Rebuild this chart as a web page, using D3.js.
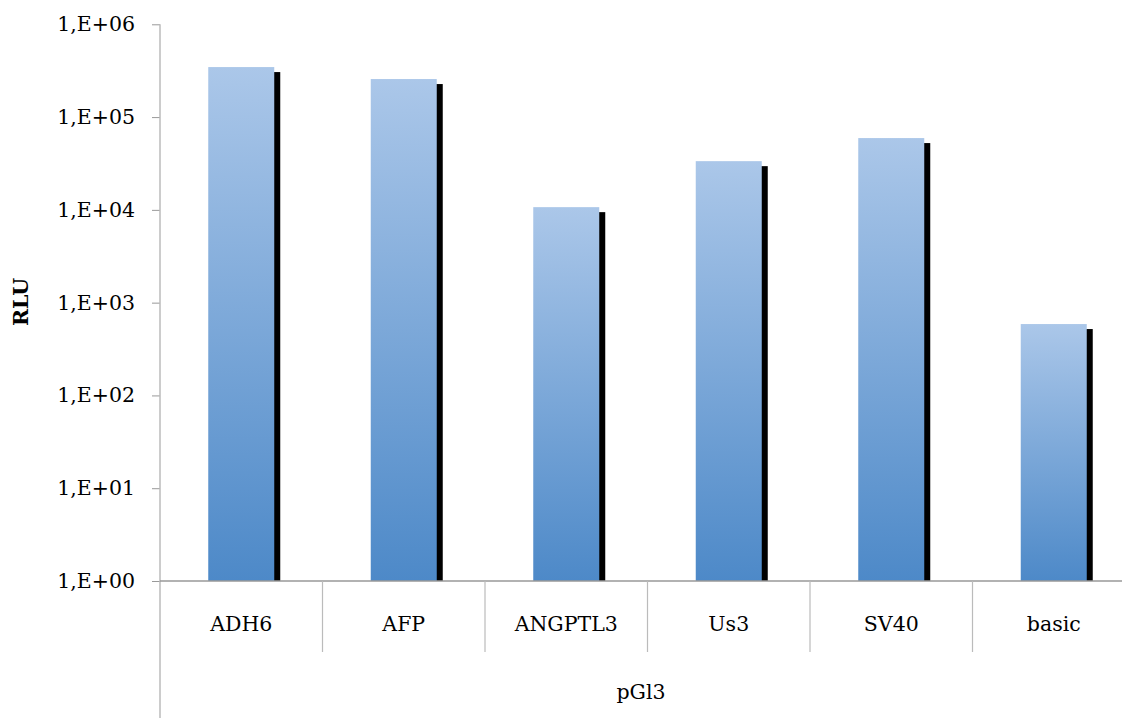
<!DOCTYPE html>
<html><head><meta charset="utf-8">
<script src="https://cdn.jsdelivr.net/npm/d3@7"></script>
<style>body{margin:0;background:#fff}svg{display:block}</style>
</head><body>
<svg id="c" width="1124" height="718"></svg>
<script>
const categories = ["ADH6","AFP","ANGPTL3","Us3","SV40","basic"];
const values = [346000, 257000, 10700, 33500, 59400, 588];
const tickValues = [1,10,100,1000,10000,100000,1000000];
const tickLabels = ["1,E+00","1,E+01","1,E+02","1,E+03","1,E+04","1,E+05","1,E+06"];
const groupLabel = "pGl3";
const yTitle = "RLU";

const svg = d3.select("#c");
const plotLeft = 160, plotRight = 1122, plotTop = 24.3, plotBottom = 581;
const font = "'DejaVu Serif','Liberation Serif',serif";
const fs = 20.5;

const y = d3.scaleLog().domain([1,1e6]).range([plotBottom, plotTop]);
const x = d3.scaleBand().domain(categories).range([plotLeft, plotLeft + 162.5*6]).padding(0);
const barW = 66;

const defs = svg.append("defs");
const g = defs.append("linearGradient").attr("id","grad").attr("x1",0).attr("y1",0).attr("x2",0).attr("y2",1);
g.append("stop").attr("offset","0%").attr("stop-color","#abc7e9");
g.append("stop").attr("offset","100%").attr("stop-color","#4d89c8");
defs.append("clipPath").attr("id","clip").append("rect").attr("x",0).attr("y",0).attr("width",1124).attr("height",plotBottom);

// shadows
svg.append("g").attr("clip-path","url(#clip)").selectAll("rect").data(categories).join("rect")
  .attr("x",(d)=>x(d)+x.bandwidth()/2-barW/2+6)
  .attr("y",(d,i)=>y(values[i])+5)
  .attr("width",barW)
  .attr("height",(d,i)=>plotBottom-y(values[i]))
  .attr("fill","#000");

// bars
svg.append("g").selectAll("rect").data(categories).join("rect")
  .attr("x",(d)=>x(d)+x.bandwidth()/2-barW/2)
  .attr("y",(d,i)=>y(values[i]))
  .attr("width",barW)
  .attr("height",(d,i)=>plotBottom-y(values[i]))
  .attr("fill","url(#grad)");

// y axis
const ya = svg.append("g").attr("transform",`translate(${plotLeft},0)`)
  .call(d3.axisLeft(y).tickValues(tickValues).tickFormat((d,i)=>tickLabels[i]).tickSize(8).tickPadding(17));
ya.select(".domain").remove();
ya.selectAll(".tick line").attr("stroke","#999");
ya.selectAll("text").attr("font-family",font).attr("font-size",fs).attr("fill","#000");
svg.append("line").attr("x1",plotLeft).attr("x2",plotLeft).attr("y1",plotTop).attr("y2",718).attr("stroke","#bbb").attr("stroke-width",1.5);

// x axis
svg.append("line").attr("x1",plotLeft).attr("x2",plotRight).attr("y1",plotBottom).attr("y2",plotBottom).attr("stroke","#999").attr("stroke-width",1.5);
svg.append("g").selectAll("line").data(categories.slice(1)).join("line")
  .attr("x1",d=>x(d)).attr("x2",d=>x(d)).attr("y1",plotBottom).attr("y2",652)
  .attr("stroke","#bbb").attr("stroke-width",1.2);
svg.append("g").selectAll("text").data(categories).join("text")
  .attr("x",d=>x(d)+x.bandwidth()/2).attr("y",631)
  .attr("text-anchor","middle").attr("font-family",font).attr("font-size",fs).text(d=>d);
svg.append("text").attr("x",(plotLeft+plotRight)/2).attr("y",699).attr("text-anchor","middle")
  .attr("font-family",font).attr("font-size",fs).text(groupLabel);

svg.append("text").attr("transform","translate(28,302) rotate(-90)").attr("text-anchor","middle")
  .attr("font-family",font).attr("font-size",fs).attr("font-weight","bold").text(yTitle);
</script>
</body></html>
